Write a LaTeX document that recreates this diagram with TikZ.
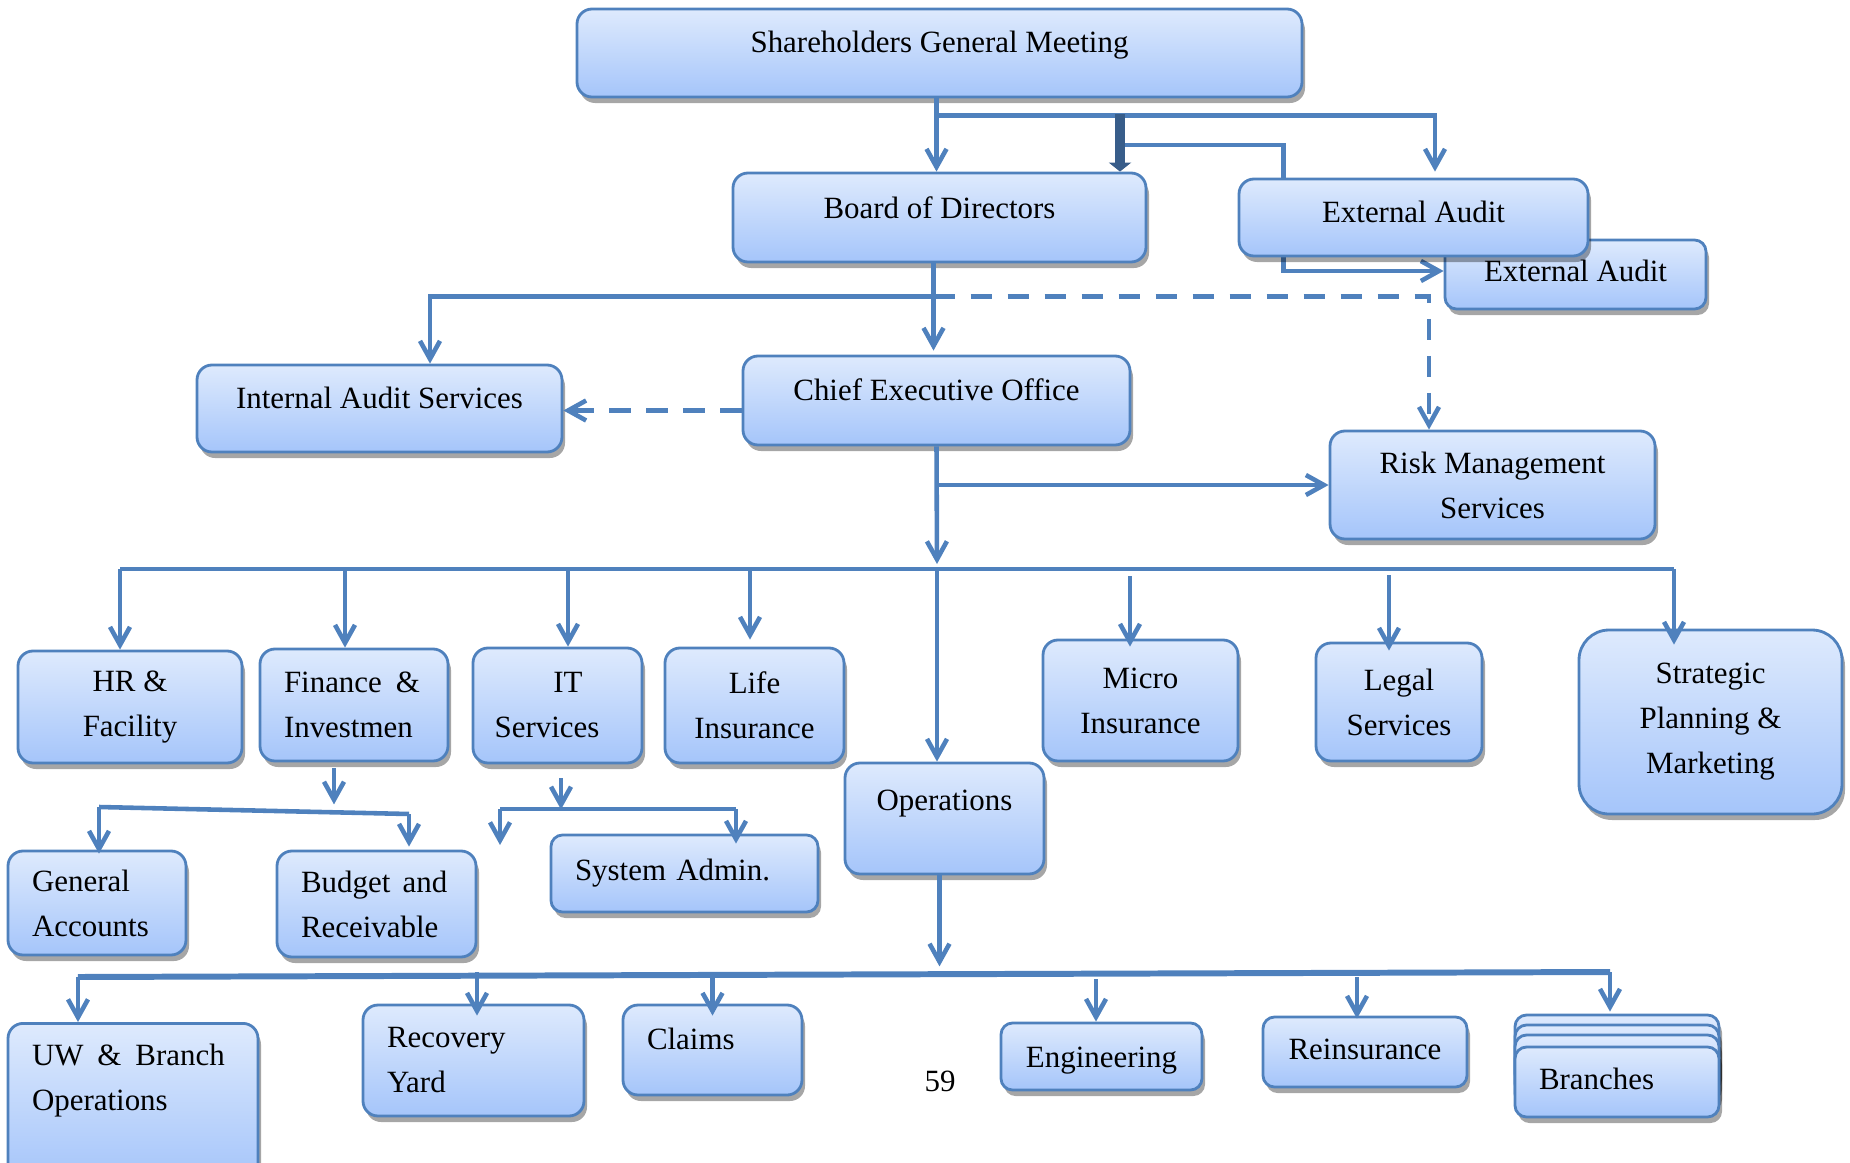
\documentclass[tikz,border=0pt]{standalone}
\usepackage{fontspec}
\setmainfont{Liberation Serif}
\usetikzlibrary{positioning,arrows.meta,calc,backgrounds,shadows}
\definecolor{lnblue}{RGB}{79,129,189}
\definecolor{lndark}{RGB}{56,93,138}
\definecolor{boxtop}{RGB}{222,234,253}
\definecolor{boxbot}{RGB}{165,197,250}

\begin{document}
\begin{tikzpicture}[
  box/.style  = {rectangle, rounded corners=1.5mm, draw=lnblue, line width=0.8pt,
                 top color=boxtop, bottom color=boxbot, align=center,
                 inner xsep=2.4mm, inner ysep=1mm, font=\fontsize{8.8}{12.8}\selectfont,
                 drop shadow={shadow xshift=.3mm, shadow yshift=-.6mm, fill=black, opacity=.35}},
  lbox/.style = {box, align=left},
  lift/.style = {text height=6pt, text depth=#1},
  lift/.default = 2pt,
  ln/.style   = {draw=lnblue, line width=1.3pt},
  fl/.style   = {ln, -{Straight Barb[length=1.8mm,width=2mm]}},
  dk/.style   = {draw=lndark, line width=2.6pt, -{Triangle[length=.9mm,width=2.2mm]}},
  dsh/.style  = {dash pattern=on 2.15mm off 1.55mm}
]
\useasboundingbox (0,0) rectangle (18.5,11.62);

% --- Top: meeting, board, audits ---------------------------------------------
\node[box, lift=6.2pt, minimum width=72.5mm, minimum height=8.8mm] (sgm) at (9.395,11.09)
     {Shareholders General Meeting};
\node[box, lift=5.4pt, minimum width=41.3mm, minimum height=8.9mm] (bod) at (9.395,9.445)
     {Board of Directors};
\node[box, lift, minimum width=26.1mm, minimum height=6.9mm, rounded corners=1.15mm] (ea2) at (15.755,8.875)
     {External Audit};
\node[box, lift=3.1pt, minimum width=34.9mm, minimum height=7.7mm] (ea1) at (14.135,9.445)
     {External Audit};

% --- Executive level ---------------------------------------------------------
\node[box, lift=5.8pt, minimum width=36.5mm, minimum height=8.7mm] (ias) at (3.795,7.535)
     {Internal Audit Services};
\node[box, lift=5.8pt, minimum width=38.7mm, minimum height=8.9mm] (ceo) at (9.365,7.615)
     {Chief Executive Office};
\node[box, minimum width=32.5mm, minimum height=10.8mm] (risk) at (14.925,6.77)
     {Risk Management\\ Services};

% --- Departments -------------------------------------------------------------
\node[box, minimum width=22.4mm, minimum height=11.2mm] (hr) at (1.30,4.55) {HR \&\\ Facility};
\node[lbox, text width=14mm, minimum width=18.8mm, minimum height=11.2mm] (fin) at (3.54,4.57)
     {Finance\hspace{.45em}\&\\ Investmen};
\node[box, inner xsep=1.8mm, minimum width=16.9mm, minimum height=11.5mm] (its) at (5.575,4.565)
     {\hspace*{.68em}IT\\ Services\hspace*{.68em}};
\node[box, minimum width=17.9mm, minimum height=11.5mm] (life) at (7.545,4.565) {Life\\ Insurance};
\node[box, lift=10.6pt, minimum width=19.9mm, minimum height=11.1mm] (ops) at (9.445,3.435) {Operations};
\node[box, minimum width=19.5mm, minimum height=12.1mm] (micro) at (11.405,4.615) {Micro\\ Insurance};
\node[box, minimum width=16.6mm, minimum height=11.8mm] (legal) at (13.99,4.60) {Legal\\ Services};
\node[box, rounded corners=3mm, minimum width=26.3mm, minimum height=18.4mm] (strat) at (17.105,4.40)
     {Strategic\\ Planning \&\\ Marketing};

% --- Sub units ---------------------------------------------------------------
\node[lbox, text width=13mm, minimum width=17.8mm, minimum height=10.4mm] (genacc) at (0.97,2.59)
     {General\\ Accounts};
\node[lbox, text width=15.1mm, minimum width=19.9mm, minimum height=10.6mm] (budget) at (3.765,2.58)
     {Budget\hspace{.4em}and\\ Receivable};
\node[lbox, lift, text width=21.9mm, minimum width=26.7mm, minimum height=7.7mm, rounded corners=1.15mm] (sysadm) at (6.845,2.885)
     {System Admin.};

% --- Operations units --------------------------------------------------------
\node[lbox, anchor=north, text width=20.2mm, text height=9pt, text depth=30pt] (uw) at (1.33,1.40)
     {UW\hspace{.45em}\&\hspace{.45em}Branch\\ Operations};
\node[lbox, text width=17.3mm, minimum width=22.1mm, minimum height=11.1mm] (recov) at (4.735,1.015)
     {Recovery\\ Yard};
\node[lbox, lift=6.3pt, text width=13.1mm, minimum width=17.9mm, minimum height=9mm] (claims) at (7.125,1.12)
     {Claims};
\node[box, lift=0pt, minimum width=20.1mm, minimum height=6.7mm, rounded corners=1.15mm] (eng) at (11.015,1.055)
     {Engineering};
\node[box, lift, minimum width=20.4mm, minimum height=7mm, rounded corners=1.15mm] (reins) at (13.65,1.10)
     {Reinsurance};
\node[box, minimum width=20.4mm, minimum height=7mm, rounded corners=1.15mm] (bk1) at (16.17,1.12) {};
\node[box, minimum width=20.4mm, minimum height=7mm, rounded corners=1.15mm] (bk2) at (16.17,1.02) {};
\node[box, minimum width=20.4mm, minimum height=7mm, rounded corners=1.15mm] (bk3) at (16.17,0.92) {};
\node[lbox, lift, text width=15.6mm, minimum width=20.4mm, minimum height=7mm, rounded corners=1.15mm] (branches) at (16.17,0.80)
     {Branches};

\node[font=\fontsize{8.8}{12.8}\selectfont] (pgno) at (9.40,0.81) {59};

% --- Top connectors ----------------------------------------------------------
\coordinate (dj) at (11.20,10.48);
\draw[fl] ([xshift=-.3mm]sgm.south) -- ([xshift=-.3mm]bod.north);
\draw[fl] ([xshift=-.3mm,yshift=-1.7mm]sgm.south) -| ([xshift=2.15mm,yshift=.6mm]ea1.north);
\draw[dk] (dj) -- (dj |- bod.north);
\begin{scope}[on background layer]
\draw[fl] ([yshift=-3.1mm]dj) -| ([xshift=4.6mm]ea1.south west) |- ([yshift=.35mm]ea2.west);
\end{scope}

% --- Board and CEO -----------------------------------------------------------
\coordinate (bj) at ([xshift=-.6mm,yshift=-3.3mm]bod.south);
\draw[fl] ([xshift=-.6mm]bod.south) -- ([xshift=-.6mm,yshift=.4mm]bod.south |- ceo.north);
\draw[fl] (bj) -| ([xshift=5.05mm]ias.north);
\draw[fl, dsh] (bj) -| ([xshift=-6.35mm]risk.north);
\draw[fl, dsh] ([yshift=-1mm]ceo.west) -- ([yshift=-1mm]ceo.west -| ias.east);

\coordinate (bus1) at (9.37,5.93);
\draw[fl] (ceo.south) -- ([yshift=.5mm]bus1);
\draw[fl] (ceo.south |- risk.west) -- (risk.west);

% --- Department bus ----------------------------------------------------------
\draw[ln] ([xshift=-1mm]hr.north |- bus1) -- ([xshift=-3.65mm]strat.north |- bus1);
\draw[fl] ([xshift=-1mm]hr.north |- bus1) -- ([xshift=-1mm]hr.north);
\draw[fl] ([xshift=-.9mm]fin.north |- bus1) -- ([xshift=-.9mm]fin.north);
\draw[fl] ([xshift=1.05mm]its.north |- bus1) -- ([xshift=1.05mm]its.north);
\draw[fl] ([xshift=-.45mm]life.north |- bus1) -- ([xshift=-.45mm,yshift=.7mm]life.north);
\draw[fl] (bus1) -- (bus1 |- ops.north);
\draw[fl] ([xshift=-1.05mm,yshift=-.7mm]micro.north |- bus1) -- ([xshift=-1.05mm,yshift=-.8mm]micro.north);
\draw[fl] ([xshift=-1mm,yshift=-.6mm]legal.north |- bus1) -- ([xshift=-1mm,yshift=-.9mm]legal.north);
\draw[fl] ([xshift=-3.65mm]strat.north |- bus1) -- ([xshift=-3.65mm,yshift=-1.6mm]strat.north);

% --- Finance and IT sub units ------------------------------------------------
\coordinate (fbl) at (0.99,3.55);
\coordinate (fbr) at (4.09,3.48);
\draw[fl] ([xshift=-2mm,yshift=-.6mm]fin.south) -- ++(0,-.36);
\draw[ln] (fbl) -- (fbr);
\draw[fl] (fbl) -- ([yshift=-.4mm]fbl |- genacc.north);
\draw[fl] (fbr) -- ([yshift=.3mm]fbr |- budget.north);

\coordinate (ibl) at (5.00,3.53);
\coordinate (ibr) at (7.36,3.53);
\coordinate (iend) at (5.00,3.17);
\draw[fl] ([xshift=.35mm,yshift=-1.4mm]its.south) -- ++(0,-.31);
\draw[ln] (ibl) -- (ibr);
\draw[fl] (ibl) -- (iend);
\draw[fl] (ibr) -- ([yshift=-1mm]ibr |- sysadm.north);

% --- Operations bus ----------------------------------------------------------
\coordinate (b3l) at (0.78,1.85);
\coordinate (b3r) at (16.10,1.90);
\draw[fl] ([xshift=-.5mm]ops.south) -- ++(0,-.91);
\draw[ln, line width=1.7pt] (b3l) -- (b3r);
\draw[fl] (b3l) -- (b3l |- uw.north);
\draw[fl] ([xshift=.35mm]recov.north |- b3r) -- ([xshift=.35mm,yshift=-1.2mm]recov.north);
\draw[fl] (claims.north |- b3r) -- ([yshift=-1.2mm]claims.north);
\draw[fl] ([xshift=-.55mm,yshift=-.7mm]eng.north |- b3r) -- ([xshift=-.55mm]eng.north);
\draw[fl] ([xshift=-.8mm,yshift=-.5mm]reins.north |- b3r) -- ([xshift=-.8mm,yshift=-.3mm]reins.north);
\draw[fl] (b3r) -- ([yshift=.2mm]b3r |- bk1.north);

\end{tikzpicture}
\end{document}
